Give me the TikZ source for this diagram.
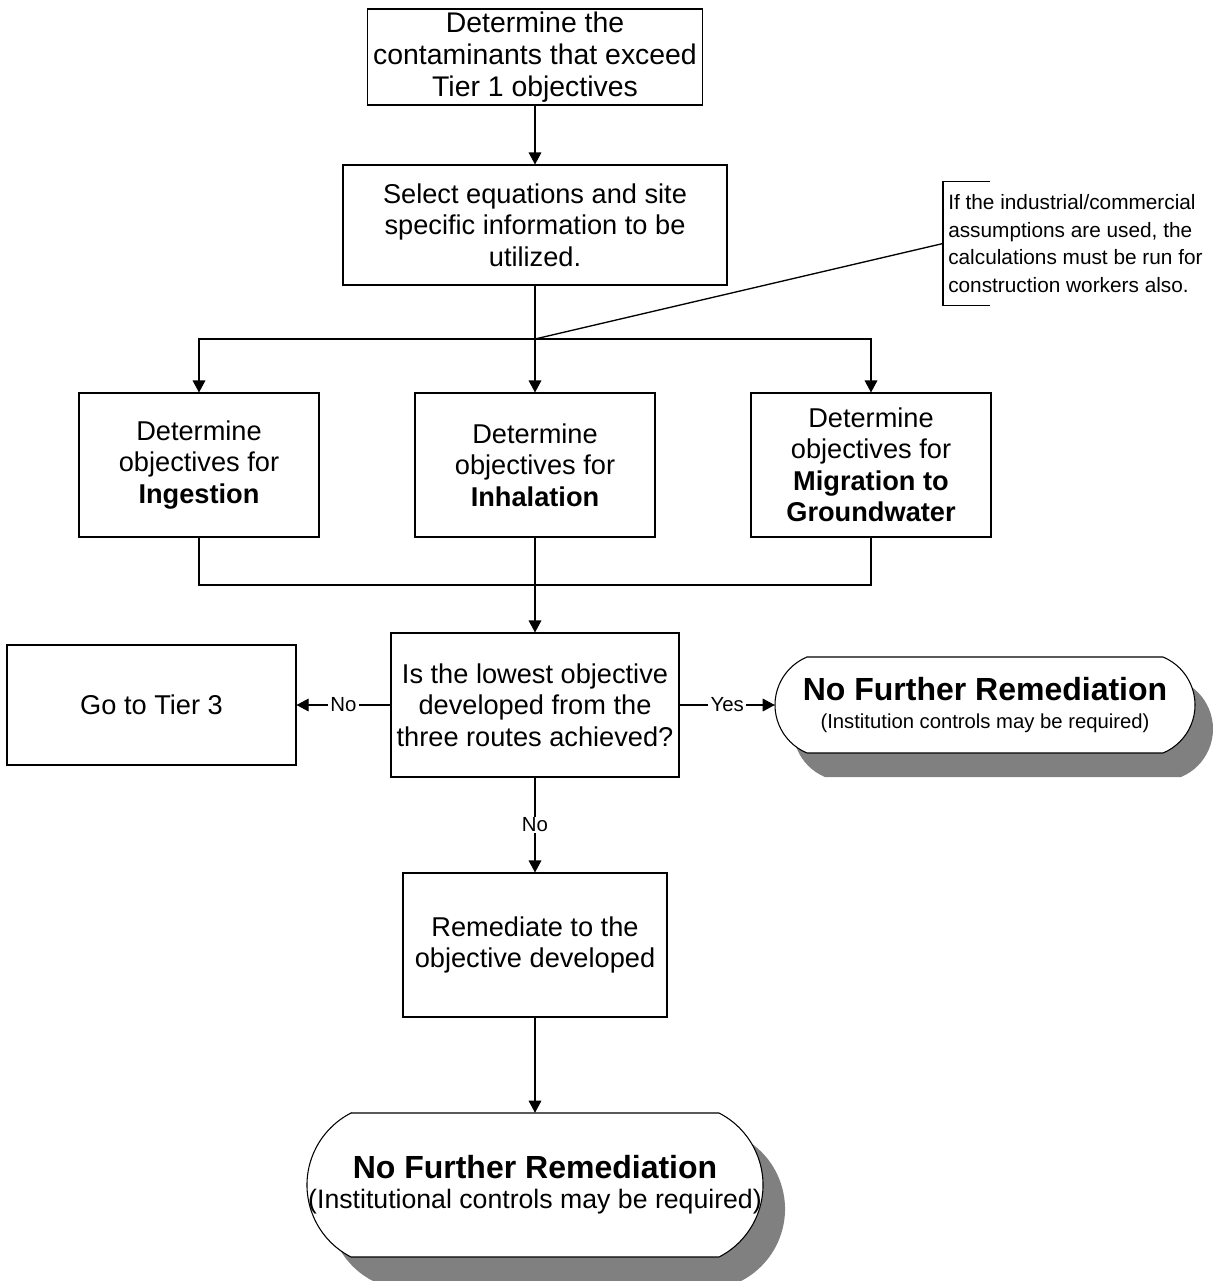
\documentclass[tikz,border=0pt]{standalone}
\usepackage{fontspec}
\setmainfont{Liberation Sans}
\usetikzlibrary{arrows.meta,calc}
\newcommand\mainfs{\fontsize{20.4}{23.6}\selectfont}
\newcommand\lblfs{\fontsize{15.3}{17}\selectfont}
\newcommand\annfs{\fontsize{15.6}{20.6}\selectfont}
\begin{document}
\begin{tikzpicture}[x=0.75pt,y=-0.75pt,
  conn/.style={line width=0.8pt},
  box/.style={draw, line width=0.8pt, align=center, inner sep=0pt, font=\mainfs},
  arr/.style={conn, -{Triangle[length=9pt,width=9.5pt]}},
  lbl/.style={fill=white, inner xsep=2pt, inner ysep=1pt, font=\lblfs},
  shadowfill/.style={fill=gray, draw=none},
  termfill/.style={fill=white, draw, line width=0.8pt},
  termtext/.style={draw=none, align=center, inner sep=0pt}
]
\useasboundingbox (0,0) rectangle (1213,1281);

% terminator shapes (shadows first)
\begin{scope}[shift={(18,24)}]
  \path[shadowfill] (807,657) -- (1163,657) arc[start angle=67.38, end angle=-67.38, radius=39pt]
     -- (807,753) arc[start angle=247.38, end angle=112.62, radius=39pt] -- cycle;
\end{scope}
\path[termfill] (807,657) -- (1163,657) arc[start angle=67.38, end angle=-67.38, radius=39pt]
   -- (807,753) arc[start angle=247.38, end angle=112.62, radius=39pt] -- cycle;

\begin{scope}[shift={(22,24)}]
  \path[shadowfill] (351,1113) -- (719,1113) arc[start angle=62.87, end angle=-62.87, radius=60.68pt]
     -- (351,1257) arc[start angle=242.87, end angle=117.13, radius=60.68pt] -- cycle;
\end{scope}
\path[termfill] (351,1113) -- (719,1113) arc[start angle=62.87, end angle=-62.87, radius=60.68pt]
   -- (351,1257) arc[start angle=242.87, end angle=117.13, radius=60.68pt] -- cycle;

% nodes
\node[box, minimum width=251.25pt, minimum height=72pt, font=\fontsize{21.3}{23.8}\selectfont] (b1) at (535,57)
  {Determine the\\contaminants that exceed\\Tier 1 objectives};
\node[box, minimum width=288pt, minimum height=90pt] (b2) at (535,225)
  {Select equations and site\\specific information to be\\utilized.};
\coordinate (J) at (535,339);
\node[box, minimum width=180pt, minimum height=108pt] (ing) at (199,465)
  {Determine\\objectives for\\\textbf{Ingestion}};
\node[box, minimum width=180pt, minimum height=108pt] (inh) at (535,465)
  {Determine\\objectives for\\\textbf{Inhalation}};
\node[box, minimum width=180pt, minimum height=108pt] (mig) at (871,465)
  {Determine\\objectives for\\\textbf{Migration to}\\\textbf{Groundwater}};
\coordinate (M) at (535,585);
\node[box, minimum width=216pt, minimum height=108pt] (dec) at (535,705)
  {Is the lowest objective\\developed from the\\three routes achieved?};
\node[box, minimum width=216.75pt, minimum height=90pt] (t3) at (151.5,705) {Go to Tier 3};
\node[box, minimum width=198pt, minimum height=108pt] (rem) at (535,945)
  {Remediate to the\\objective developed};
\node[termtext, minimum width=315pt, minimum height=72pt, font=\fontsize{15.2}{21}\selectfont] (t1) at (985,705)
  {{\bfseries\fontsize{24}{21}\selectfont No Further Remediation}\\
   {\fontsize{15.2}{21}\selectfont (Institution controls may be required)}};
\node[termtext, minimum width=342pt, minimum height=108pt, font=\fontsize{20}{22.5}\selectfont] (t2) at (535,1185)
  {\raisebox{-3pt}{\bfseries\fontsize{24}{22.5}\selectfont No Further Remediation}\\
   \raisebox{-3pt}{\fontsize{20}{22.5}\selectfont (Institutional controls may be required)}};
\node[anchor=west, inner xsep=3.75pt, inner ysep=0pt, minimum height=92.25pt, align=left, font=\annfs] (ann) at (943,243.5)
  {If the industrial/commercial\\assumptions are used, the\\calculations must be run for\\construction workers also.};

% connectors
\draw[arr] (b1.south) -- (b2.north);
\draw[conn] (b2.south) -- (J);
\draw[arr] (J) -| (ing.north);
\draw[arr] (J) -- (inh.north);
\draw[arr] (J) -| (mig.north);
\draw[line width=1pt] (J) -- (ann.west);
\draw[conn] ($(ann.north west)+(47,0)$) -- (ann.north west) -- (ann.south west) -- ++(47,0);
\draw[conn] (ing.south) |- (M) -| (mig.south);
\draw[arr] (inh.south) -- (dec.north);
\draw[arr] (dec.west) -- node[lbl]{No} (t3.east);
\draw[arr] (dec.east) -- node[lbl]{Yes} (t1.west);
\draw[arr] (dec.south) -- node[lbl]{No} (rem.north);
\draw[arr] (rem.south) -- (t2.north);
\end{tikzpicture}
\end{document}
